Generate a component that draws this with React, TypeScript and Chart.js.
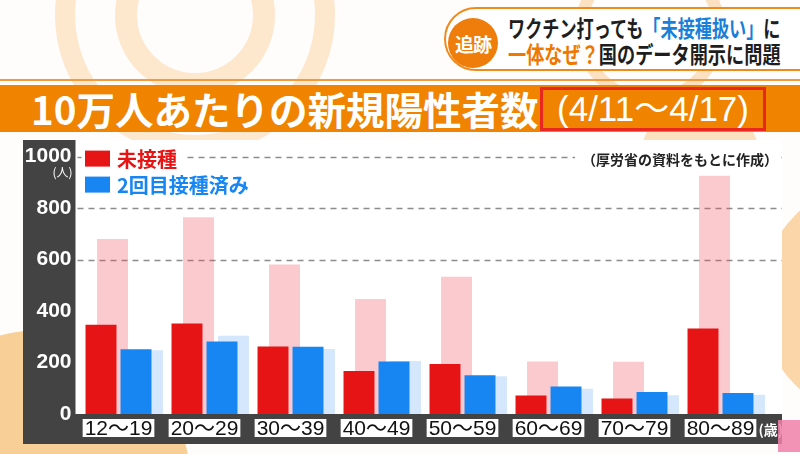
import React, { useEffect, useRef } from "react";
import { Chart, registerables } from "chart.js";

Chart.register(...registerables);

// ---- data ----
const categories = ["12～19", "20～29", "30～39", "40～49", "50～59", "60～69", "70～79", "80～89"];
const unvaccinated = [347, 352, 262, 167, 194, 72, 60, 332];
const vaccinated2 = [252, 282, 261, 204, 151, 107, 85, 82];
const unvaccinatedBefore = [680, 764, 581, 447, 533, 204, 203, 926];
const vaccinated2Before = [248, 304, 253, 206, 147, 98, 73, 75];
const yTickValues = [0, 200, 400, 600, 800, 1000];
const gridValues = [600, 800, 1000];
const seriesLabels = ["未接種", "2回目接種済み"];
const sourceNote = "（厚労省の資料をもとに作成）";
const yUnit = "(人)";
const xUnit = "(歳)";

// ---- styles ----
const RED = "#e61414";
const BLUE = "#1786f2";
const PINK_FADED = "rgba(239, 80, 95, 0.30)";
const BLUE_FADED = "rgba(30, 130, 240, 0.19)";
// pixel offsets of each bar series from the category centre (layout only)
const AXIS_SHIFT: Record<string, number> = { xRed: -17.5, xBlue: 17.5, xRedPrev: -6, xBluePrev: 29 };
const JP = "'Noto Sans CJK JP', 'Noto Sans', sans-serif";
const NUM = "'Liberation Sans', Arial, 'Noto Sans CJK JP', sans-serif";

const framePlugin = {
  id: "frame",
  afterLayout(chart: any) {
    Object.keys(AXIS_SHIFT).forEach((id) => {
      const s = chart.scales[id];
      if (s) {
        s.left += AXIS_SHIFT[id];
        s.right += AXIS_SHIFT[id];
        s.configure();
      }
    });
  },
  beforeDraw(chart: any) {
    const { ctx, width, height, chartArea } = chart;
    ctx.save();
    ctx.fillStyle = "#434343";
    ctx.fillRect(0, 0, width, height);
    ctx.fillStyle = "#ffffff";
    ctx.fillRect(chartArea.left, 0, width - chartArea.left, chartArea.bottom);
    const y = chart.scales.y;
    ctx.strokeStyle = "#8c8c8c";
    ctx.lineWidth = 1.4;
    ctx.setLineDash([6, 5]);
    gridValues.forEach((v) => {
      const py = Math.round(y.getPixelForValue(v)) + 0.5;
      ctx.beginPath();
      ctx.moveTo(chartArea.left + 2, py);
      ctx.lineTo(width, py);
      ctx.stroke();
    });
    ctx.restore();
  },
  afterDraw(chart: any) {
    const { ctx, width, chartArea } = chart;
    const xs = chart.scales.x;
    ctx.save();
    // x labels in white boxes
    ctx.font = `21px ${NUM}`;
    ctx.textAlign = "center";
    ctx.textBaseline = "middle";
    const ly = chartArea.bottom + 14;
    categories.forEach((c, i) => {
      const x = xs.getPixelForValue(i);
      const w = ctx.measureText(c).width;
      ctx.fillStyle = "#ffffff";
      ctx.fillRect(x - w / 2 - 2, ly - 9, w + 4, 18);
      ctx.fillStyle = "#111111";
      ctx.fillText(c, x, ly + 1);
    });
    // units
    ctx.fillStyle = "#ffffff";
    ctx.font = `bold 14px ${JP}`;
    ctx.textAlign = "left";
    ctx.fillText(xUnit, chartArea.right - 5, ly + 2);
    ctx.font = `12px ${JP}`;
    ctx.textAlign = "right";
    ctx.fillText(yUnit, chartArea.left - 3, chartArea.top + 16);

    // legend
    const ds = chart.data.datasets;
    [0, 1].forEach((k) => {
      const cy = chartArea.top + 2 + k * 26;
      const label = ds[k].label as string;
      ctx.font = `bold 20px ${JP}`;
      const tw = ctx.measureText(label).width;
      ctx.fillStyle = "#ffffff";
      ctx.fillRect(chartArea.left + 6, cy - 12, 42 + tw, 24);
      ctx.fillStyle = ds[k].backgroundColor;
      ctx.fillRect(chartArea.left + 9.5, cy - 8, 25, 16);
      ctx.textAlign = "left";
      ctx.fillText(label, chartArea.left + 41.5, cy + 1);
    });

    // source note
    ctx.font = `bold 14px ${JP}`;
    ctx.textAlign = "right";
    const sw = ctx.measureText(sourceNote).width;
    const sy = chartArea.top + 2;
    ctx.fillStyle = "#ffffff";
    ctx.fillRect(width - 5 - sw - 6, sy - 10, sw + 8, 20);
    ctx.fillStyle = "#222222";
    ctx.fillText(sourceNote, width - 4, sy + 1);
    ctx.restore();
  },
};

function BarChart() {
  const ref = useRef<HTMLCanvasElement | null>(null);
  useEffect(() => {
    if (!ref.current) return;
    const common = { grouped: false, categoryPercentage: 1, barPercentage: 0.36 };
    const hiddenAxis = { type: "category", offset: true, display: false };
    const chart = new Chart(ref.current, {
      type: "bar",
      data: {
        labels: categories,
        datasets: [
          { label: seriesLabels[0], data: unvaccinated, backgroundColor: RED, xAxisID: "xRed", ...common },
          { label: seriesLabels[1], data: vaccinated2, backgroundColor: BLUE, xAxisID: "xBlue", ...common },
          { label: seriesLabels[0] + "(前)", data: unvaccinatedBefore, backgroundColor: PINK_FADED, xAxisID: "xRedPrev", ...common },
          { label: seriesLabels[1] + "(前)", data: vaccinated2Before, backgroundColor: BLUE_FADED, xAxisID: "xBluePrev", ...common },
        ] as any,
      },
      options: {
        animation: false,
        responsive: false,
        layout: { padding: { left: 0, right: 18.5, top: 13, bottom: 0 } },
        plugins: { legend: { display: false }, tooltip: { enabled: false } },
        scales: {
          x: {
            type: "category",
            offset: true,
            grid: { display: false, drawTicks: false },
            border: { display: false },
            ticks: { display: false },
            afterFit: (s: any) => {
              s.height = 30;
            },
          },
          xRed: hiddenAxis,
          xBlue: hiddenAxis,
          xRedPrev: hiddenAxis,
          xBluePrev: hiddenAxis,
          y: {
            min: 0,
            max: 1000,
            afterBuildTicks: (s: any) => {
              s.ticks = yTickValues.map((v) => ({ value: v }));
            },
            grid: { display: false, drawTicks: false },
            border: { display: false },
            ticks: {
              color: "#ffffff",
              padding: 4,
              font: { family: NUM, size: 21, weight: "bold" },
              callback: (v: any) => String(v),
            },
            afterFit: (s: any) => {
              s.width = 52.5;
            },
          },
        },
      } as any,
      plugins: [framePlugin],
    });
    return () => chart.destroy();
  }, []);
  return <canvas ref={ref} width={759} height={304} style={{ position: "absolute", left: 23, top: 140 }} />;
}

export default function App() {
  const ring = (cx: number, cy: number, r: number, bw: number, color: string) => (
    <div
      style={{
        position: "absolute",
        left: cx - r,
        top: cy - r,
        width: 2 * r,
        height: 2 * r,
        borderRadius: "50%",
        border: `${bw}px solid ${color}`,
        boxSizing: "border-box",
      }}
    />
  );
  const blob = (cx: number, cy: number, r: number, color: string) => (
    <div
      style={{
        position: "absolute",
        left: cx - r,
        top: cy - r,
        width: 2 * r,
        height: 2 * r,
        borderRadius: "50%",
        background: color,
      }}
    />
  );
  return (
    <div
      style={{
        position: "fixed",
        left: 0,
        top: 0,
        width: 800,
        height: 454,
        overflow: "hidden",
        background: "#fffdfb",
        fontFamily: JP,
      }}
    >
      {ring(195, 15, 140, 20, "rgba(248,190,120,0.35)")}
      {ring(195, 15, 80, 22, "rgba(248,190,120,0.35)")}
      {ring(650, 30, 75, 12, "rgba(245,170,90,0.35)")}
      {blob(40, 480, 150, "#f7cf97")}
      {blob(880, 300, 120, "#fbd6a8")}
      {blob(700, 160, 60, "rgba(248,190,120,0.45)")}

      {/* top-right caption box */}
      <div
        style={{
          position: "absolute",
          left: 444,
          top: 7,
          width: 400,
          height: 60,
          border: "2px solid #f08a1c",
          borderRadius: 32,
          background: "rgba(255,255,255,0.92)",
        }}
      />
      <div
        style={{
          position: "absolute",
          left: 448,
          top: 18,
          width: 50,
          height: 50,
          borderRadius: "50%",
          background: "#ee7d0c",
          color: "#fff",
          fontWeight: 700,
          fontSize: 19,
          display: "flex",
          alignItems: "center",
          justifyContent: "center",
          letterSpacing: -1,
        }}
      >
        追跡
      </div>
      <div
        style={{
          position: "absolute",
          left: 508,
          top: 12,
          fontSize: 23,
          fontWeight: 700,
          lineHeight: "30px",
          whiteSpace: "nowrap",
          color: "#1e1e1e",
          transform: "scaleX(0.745)",
          transformOrigin: "left top",
        }}
      >
        ワクチン打っても<span style={{ color: "#1a7fd8" }}>「未接種扱い」</span>に
      </div>
      <div
        style={{
          position: "absolute",
          left: 508,
          top: 38,
          fontSize: 23,
          fontWeight: 700,
          lineHeight: "30px",
          whiteSpace: "nowrap",
          color: "#1e1e1e",
          transform: "scaleX(0.79)",
          transformOrigin: "left top",
        }}
      >
        <span style={{ color: "#ee7800" }}>一体なぜ？</span>国のデータ開示に問題
      </div>

      {/* title bar */}
      <div style={{ position: "absolute", left: 0, top: 79, width: 800, height: 2, background: "#f39a3c" }} />
      <div style={{ position: "absolute", left: 0, top: 85, width: 800, height: 47, background: "#f08300" }} />
      <div
        style={{
          position: "absolute",
          left: 31,
          top: 84,
          height: 48,
          lineHeight: "48px",
          fontSize: 38.5,
          fontWeight: 700,
          color: "#ffffff",
          whiteSpace: "nowrap",
        }}
      >
        10万人あたりの新規陽性者数
      </div>
      <div
        style={{
          position: "absolute",
          left: 540,
          top: 87,
          width: 226,
          height: 44,
          border: "3px solid #e8281e",
          boxSizing: "border-box",
          color: "#ffffff",
          fontSize: 35,
          fontFamily: NUM,
          lineHeight: "38px",
          textAlign: "center",
          whiteSpace: "nowrap",
        }}
      >
        (4/11～4/17)
      </div>

      <BarChart />

      <div style={{ position: "absolute", left: 778, top: 420, width: 30, height: 32, background: "#f07fa8", opacity: 0.85 }} />
    </div>
  );
}
